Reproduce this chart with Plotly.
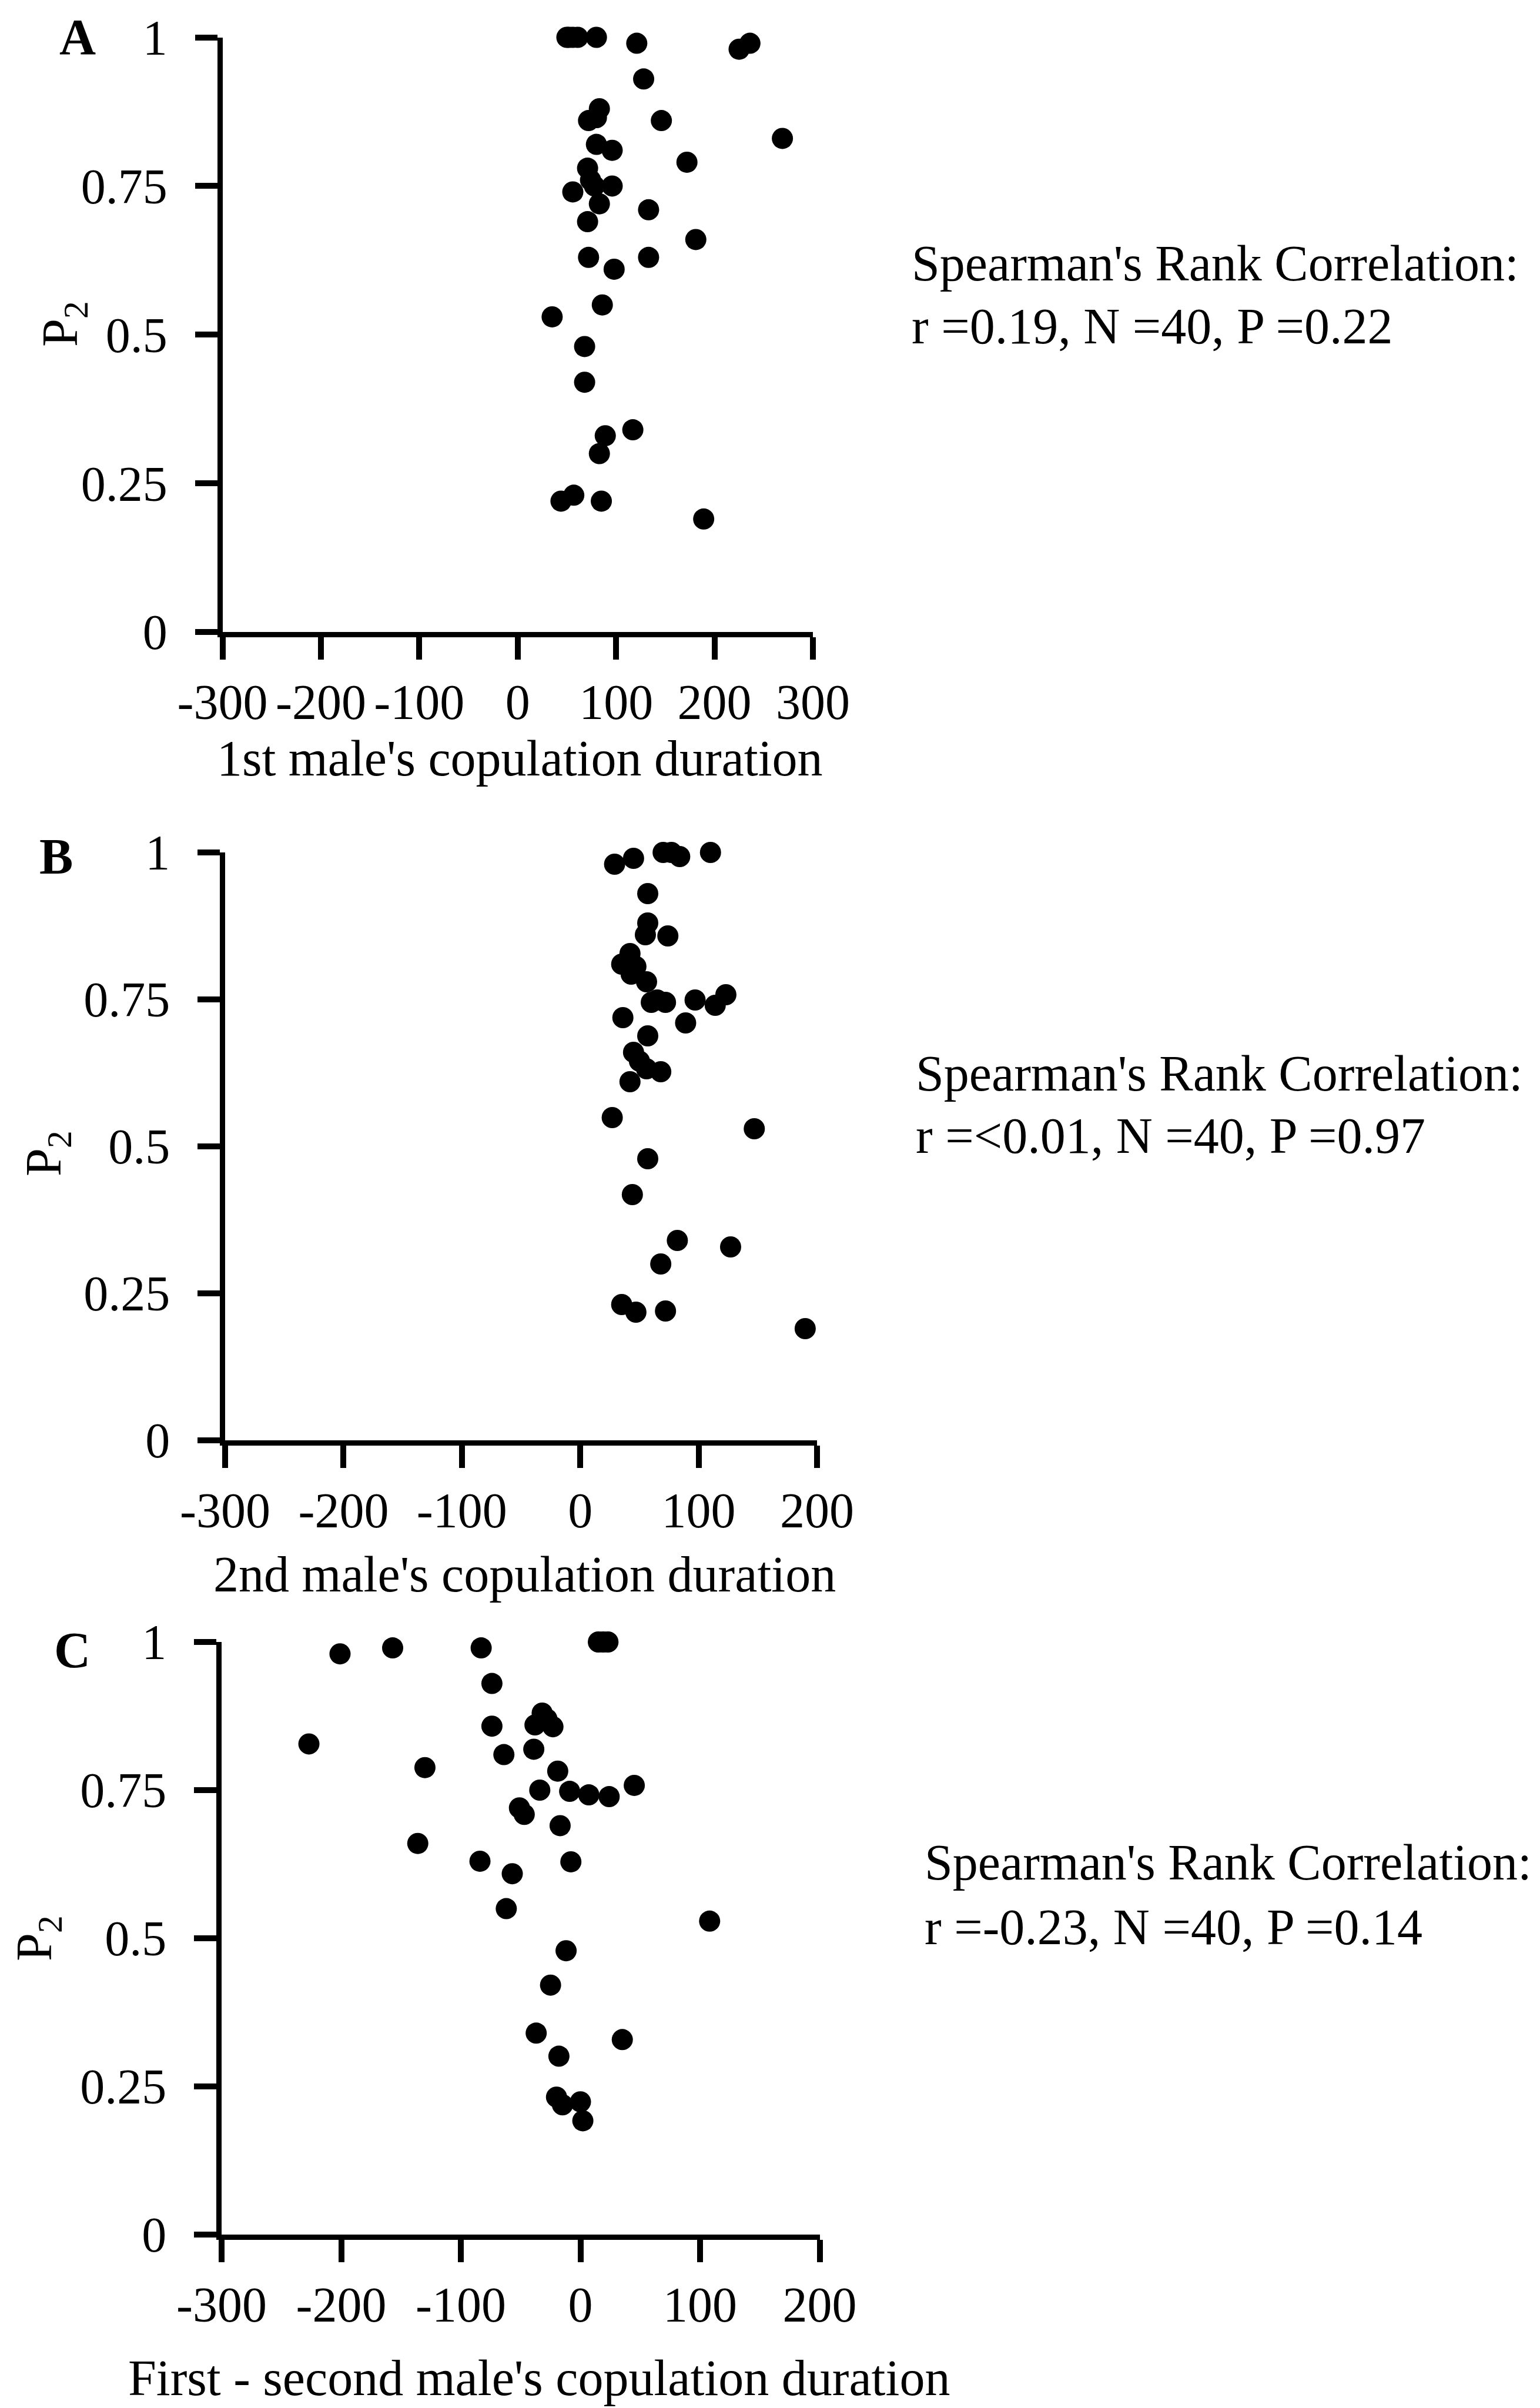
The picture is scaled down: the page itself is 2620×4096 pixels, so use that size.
import plotly.graph_objects as go

W, H = 2620, 4096

# ---------------- data ----------------
a_x = [50, 56, 61, 80, 121, 225, 236, 128, 83, 72, 80, 146, 269, 80, 96, 172,
       71, 56, 78, 96, 83, 74, 133, 71, 181, 72, 133, 98, 86, 35,
       68, 68, 117, 89, 83, 44, 57, 85, 189, 52]
a_y = [1.0, 1.0, 1.0, 1.0, 0.99, 0.98, 0.99, 0.93, 0.88, 0.86, 0.865, 0.86, 0.83, 0.82, 0.81, 0.79,
       0.78, 0.74, 0.75, 0.75, 0.72, 0.76, 0.71, 0.69, 0.66, 0.63, 0.63, 0.61, 0.55, 0.53,
       0.48, 0.42, 0.34, 0.33, 0.30, 0.22, 0.23, 0.22, 0.19, 1.0]

b_x = [29, 45, 70, 77, 84, 110, 57, 57, 55, 74, 42, 35, 47, 43, 56,
       65, 72, 60, 97, 114, 123, 36, 89, 57, 45, 50, 56, 68, 42,
       27, 147, 57, 44, 82, 127, 68, 35, 47, 72, 190]
b_y = [0.98, 0.99, 1.0, 1.0, 0.993, 1.0, 0.93, 0.88, 0.86, 0.858, 0.828, 0.81, 0.806, 0.793, 0.78,
       0.749, 0.745, 0.745, 0.749, 0.74, 0.758, 0.719, 0.71, 0.688, 0.66, 0.645, 0.632, 0.627, 0.61,
       0.549, 0.53, 0.479, 0.418, 0.34, 0.329, 0.30, 0.231, 0.218, 0.22, 0.19]

c_x = [-201, -157, -83, 15, 19, 23, -227, -74, -32, -38, -23, -28,
       -74, -64, -39, -130, -19, -34, -9, 7, 24, 45,
       -51, -47, -17, -136, -84, -8, -57, -62,
       108, -12, -25, -37, 35, -18, -20, -15, 0, 2]
c_y = [0.98, 0.99, 0.99, 1.0, 1.0, 1.0, 0.828, 0.93, 0.88, 0.86, 0.857, 0.87,
       0.858, 0.81, 0.819, 0.788, 0.782, 0.75, 0.748, 0.742, 0.739, 0.758,
       0.72, 0.709, 0.69, 0.66, 0.63, 0.629, 0.609, 0.55,
       0.529, 0.479, 0.421, 0.34, 0.329, 0.301, 0.232, 0.219, 0.224, 0.192]

y_ticks = [0, 0.25, 0.5, 0.75, 1]
y_ticktext = ["0", "0.25", "0.5", "0.75", "1"]
xa_ticks = [-300, -200, -100, 0, 100, 200, 300]
xa_ticktext = ["-300", "-200", "-100", "0", "100", "200", "300"]
xbc_ticks = [-300, -200, -100, 0, 100, 200]
xbc_ticktext = ["-300", "-200", "-100", "0", "100", "200"]

panel_letters = ["A", "B", "C"]
x_titles = ["1st male's copulation duration",
            "2nd male's copulation duration",
            "First - second male's copulation duration"]
stat_line1 = "Spearman's Rank Correlation:"
stat_line2 = ["r =0.19, N =40, P =0.22",
              "r =&lt;0.01, N =40, P =0.97",
              "r =-0.23, N =40, P =0.14"]

# ---------------- layout geometry (pixels) ----------------
FONT = "Liberation Serif"
FS = 86
TFS = 84

def px(x):
    return x / W

def py(y):
    return 1 - y / H

panels = [
    dict(x0=378.5, x1=1383, ytop=63.5, ybot=1075, xr=[-300, 300], tv=xa_ticks, tt=xa_ticktext,
         xs=a_x, ys=a_y, letter=(132, 63), p2=(108, 551), xt=(884, 1290),
         s1=448, s2=555, sx=1549),
    dict(x0=383, x1=1390, ytop=1450, ybot=2450, xr=[-300, 200], tv=xbc_ticks, tt=xbc_ticktext,
         xs=b_x, ys=b_y, letter=(95, 1457), p2=(80, 1962), xt=(892, 2678),
         s1=1826, s2=1932, sx=1556),
    dict(x0=377, x1=1394.5, ytop=2793, ybot=3801, xr=[-300, 200], tv=xbc_ticks, tt=xbc_ticktext,
         xs=c_x, ys=c_y, letter=(123, 2807), p2=(64, 3297), xt=(917, 4045),
         s1=3168, s2=3278, sx=1571),
]

fig = go.Figure()
annotations = []
layout_axes = {}

for i, p in enumerate(panels):
    n = "" if i == 0 else str(i + 1)
    fig.add_trace(go.Scatter(
        x=p["xs"], y=p["ys"], mode="markers",
        marker=dict(color="black", size=36, line=dict(width=0)),
        xaxis="x" + n, yaxis="y" + n, cliponaxis=False, showlegend=False,
        hoverinfo="skip"))
    common = dict(showgrid=False, zeroline=False, showline=True, linecolor="black",
                  linewidth=9, ticks="outside", ticklen=38, tickwidth=10,
                  tickcolor="black", tickfont=dict(family=FONT, size=TFS, color="black"),
                  fixedrange=True, automargin=False)
    layout_axes["xaxis" + n] = dict(
        domain=[px(p["x0"]), px(p["x1"])], range=p["xr"], anchor="y" + n,
        tickmode="array", tickvals=p["tv"], ticktext=p["tt"], tickangle=0,
        ticklabelstandoff=0, **common)
    layout_axes["yaxis" + n] = dict(
        domain=[py(p["ybot"]), py(p["ytop"])], range=[0, 1], anchor="x" + n,
        tickmode="array", tickvals=y_ticks, ticktext=y_ticktext,
        ticklabelstandoff=30, **common)

    annotations.append(dict(text="<b>%s</b>" % panel_letters[i], x=px(p["letter"][0]),
                            y=py(p["letter"][1]), xref="paper", yref="paper",
                            xanchor="center", yanchor="middle", showarrow=False,
                            font=dict(family=FONT, size=FS, color="black")))
    annotations.append(dict(text="P<sub>2</sub>", x=px(p["p2"][0]), y=py(p["p2"][1]),
                            xref="paper", yref="paper", xanchor="center", yanchor="middle",
                            textangle=-90, showarrow=False,
                            font=dict(family=FONT, size=FS, color="black")))
    annotations.append(dict(text=x_titles[i], x=px(p["xt"][0]), y=py(p["xt"][1]),
                            xref="paper", yref="paper", xanchor="center", yanchor="middle",
                            showarrow=False, font=dict(family=FONT, size=FS, color="black")))
    annotations.append(dict(text=stat_line1, x=px(p["sx"]), y=py(p["s1"]),
                            xref="paper", yref="paper", xanchor="left", yanchor="middle",
                            showarrow=False, font=dict(family=FONT, size=FS, color="black")))
    annotations.append(dict(text=stat_line2[i], x=px(p["sx"]), y=py(p["s2"]),
                            xref="paper", yref="paper", xanchor="left", yanchor="middle",
                            showarrow=False, font=dict(family=FONT, size=FS, color="black")))

fig.update_layout(
    width=W, height=H, autosize=False,
    margin=dict(l=0, r=0, t=0, b=0, pad=0, autoexpand=False),
    paper_bgcolor="white", plot_bgcolor="white",
    annotations=annotations, showlegend=False,
    **layout_axes)

fig.write_html("out.html", config={"displayModeBar": False})
